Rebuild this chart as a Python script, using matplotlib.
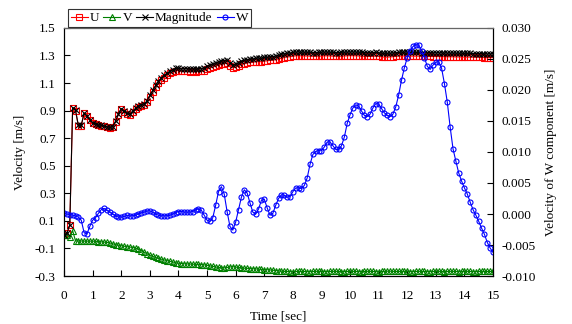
import numpy as np
import matplotlib
matplotlib.use("Agg")
import matplotlib.pyplot as plt

plt.rcParams['font.family'] = ['Liberation Serif', 'DejaVu Serif']

# sample times, 0.1 s step
time_sec = np.linspace(0, 15, 151)

u_vel = [
    0.000, 0.010, 0.070, 0.920, 0.900, 0.790, 0.790, 0.880, 0.860, 0.830,
    0.810, 0.800, 0.795, 0.790, 0.785, 0.780, 0.775, 0.780, 0.820, 0.870,
    0.910, 0.890, 0.875, 0.870, 0.890, 0.910, 0.925, 0.935, 0.940, 0.960,
    1.000, 1.035, 1.070, 1.100, 1.125, 1.140, 1.155, 1.170, 1.180, 1.190,
    1.190, 1.185, 1.185, 1.185, 1.180, 1.185, 1.180, 1.185, 1.185, 1.190,
    1.200, 1.210, 1.215, 1.225, 1.230, 1.235, 1.240, 1.245, 1.225, 1.210,
    1.215, 1.225, 1.235, 1.240, 1.245, 1.250, 1.250, 1.255, 1.255, 1.255,
    1.260, 1.260, 1.265, 1.265, 1.270, 1.275, 1.280, 1.285, 1.290, 1.290,
    1.295, 1.297, 1.298, 1.297, 1.296, 1.296, 1.295, 1.294, 1.294, 1.295,
    1.296, 1.297, 1.297, 1.296, 1.295, 1.294, 1.294, 1.295, 1.296, 1.297,
    1.298, 1.298, 1.297, 1.296, 1.295, 1.294, 1.293, 1.293, 1.294, 1.295,
    1.293, 1.290, 1.288, 1.288, 1.289, 1.291, 1.293, 1.295, 1.296, 1.297,
    1.297, 1.296, 1.295, 1.295, 1.295, 1.294, 1.294, 1.293, 1.293, 1.292,
    1.292, 1.292, 1.291, 1.291, 1.290, 1.290, 1.290, 1.289, 1.289, 1.289,
    1.288, 1.288, 1.288, 1.287, 1.287, 1.287, 1.286, 1.285, 1.284, 1.284,
    1.285,
]

v_vel = [
    0.000, 0.000, -0.020, 0.030, -0.045, -0.045, -0.046, -0.047, -0.047, -0.047,
    -0.047, -0.048, -0.050, -0.052, -0.054, -0.056, -0.060, -0.066, -0.072, -0.076,
    -0.080, -0.084, -0.087, -0.090, -0.093, -0.097, -0.105, -0.115, -0.127, -0.138,
    -0.148, -0.157, -0.165, -0.172, -0.178, -0.183, -0.188, -0.193, -0.198, -0.203,
    -0.207, -0.209, -0.211, -0.212, -0.213, -0.214, -0.215, -0.215, -0.217, -0.219,
    -0.222, -0.226, -0.230, -0.234, -0.238, -0.240, -0.240, -0.238, -0.234, -0.232,
    -0.235, -0.238, -0.241, -0.243, -0.244, -0.246, -0.247, -0.248, -0.250, -0.252,
    -0.253, -0.254, -0.256, -0.258, -0.260, -0.262, -0.264, -0.266, -0.267, -0.268,
    -0.268, -0.267, -0.266, -0.266, -0.267, -0.268, -0.268, -0.267, -0.266, -0.266,
    -0.267, -0.268, -0.268, -0.267, -0.266, -0.266, -0.267, -0.268, -0.268, -0.267,
    -0.266, -0.266, -0.267, -0.268, -0.268, -0.267, -0.266, -0.266, -0.267, -0.268,
    -0.268, -0.267, -0.266, -0.265, -0.265, -0.266, -0.267, -0.267, -0.266, -0.266,
    -0.267, -0.268, -0.268, -0.267, -0.266, -0.266, -0.267, -0.268, -0.268, -0.267,
    -0.266, -0.266, -0.267, -0.268, -0.267, -0.266, -0.266, -0.267, -0.268, -0.267,
    -0.266, -0.266, -0.267, -0.268, -0.268, -0.267, -0.266, -0.266, -0.267, -0.267,
    -0.266,
]

magnitude = [
    0.000, 0.010, 0.072, 0.922, 0.902, 0.792, 0.792, 0.882, 0.862, 0.832,
    0.812, 0.802, 0.797, 0.793, 0.788, 0.783, 0.778, 0.783, 0.824, 0.874,
    0.915, 0.895, 0.880, 0.876, 0.896, 0.917, 0.932, 0.943, 0.949, 0.970,
    1.011, 1.047, 1.083, 1.113, 1.139, 1.155, 1.170, 1.186, 1.197, 1.207,
    1.208, 1.203, 1.204, 1.204, 1.199, 1.204, 1.199, 1.204, 1.205, 1.210,
    1.220, 1.231, 1.237, 1.247, 1.253, 1.258, 1.263, 1.268, 1.248, 1.232,
    1.237, 1.248, 1.258, 1.264, 1.269, 1.274, 1.274, 1.280, 1.280, 1.280,
    1.286, 1.286, 1.291, 1.291, 1.296, 1.302, 1.307, 1.312, 1.317, 1.317,
    1.322, 1.324, 1.325, 1.324, 1.323, 1.323, 1.322, 1.321, 1.321, 1.322,
    1.323, 1.324, 1.324, 1.323, 1.322, 1.321, 1.321, 1.322, 1.323, 1.324,
    1.325, 1.325, 1.324, 1.323, 1.322, 1.321, 1.320, 1.320, 1.321, 1.322,
    1.320, 1.317, 1.315, 1.315, 1.316, 1.318, 1.320, 1.322, 1.323, 1.324,
    1.324, 1.323, 1.322, 1.322, 1.322, 1.321, 1.321, 1.320, 1.320, 1.319,
    1.319, 1.319, 1.318, 1.318, 1.317, 1.317, 1.317, 1.316, 1.316, 1.316,
    1.315, 1.315, 1.315, 1.314, 1.314, 1.314, 1.313, 1.312, 1.311, 1.311,
    1.312,
]

w_vel = [
    0.0001, 0.0000, -0.0001, -0.0002, -0.0003, -0.0005, -0.0010, -0.0030, -0.0032, -0.0020,
    -0.0010, -0.0006, 0.0001, 0.0007, 0.0009, 0.0006, 0.0003, 0.0000, -0.0003, -0.0005,
    -0.0005, -0.0004, -0.0002, -0.0003, -0.0003, -0.0002, 0.0000, 0.0002, 0.0003, 0.0005,
    0.0005, 0.0003, 0.0000, -0.0002, -0.0003, -0.0003, -0.0003, -0.0002, 0.0000, 0.0002,
    0.0004, 0.0004, 0.0003, 0.0003, 0.0003, 0.0004, 0.0007, 0.0008, 0.0006, -0.0002,
    -0.0010, -0.0012, -0.0006, 0.0014, 0.0036, 0.0044, 0.0032, 0.0004, -0.0020, -0.0026,
    -0.0013, 0.0007, 0.0027, 0.0039, 0.0034, 0.0018, 0.0003, 0.0000, 0.0008, 0.0022,
    0.0024, 0.0010, -0.0002, 0.0001, 0.0014, 0.0025, 0.0031, 0.0030, 0.0027, 0.0028,
    0.0036, 0.0042, 0.0042, 0.0041, 0.0046, 0.0058, 0.0080, 0.0096, 0.0101, 0.0102,
    0.0102, 0.0108, 0.0116, 0.0116, 0.0110, 0.0104, 0.0104, 0.0110, 0.0124, 0.0146,
    0.0160, 0.0171, 0.0176, 0.0174, 0.0166, 0.0159, 0.0157, 0.0161, 0.0171, 0.0178,
    0.0177, 0.0170, 0.0163, 0.0159, 0.0157, 0.0161, 0.0173, 0.0192, 0.0216, 0.0236,
    0.0252, 0.0263, 0.0270, 0.0273, 0.0272, 0.0263, 0.0252, 0.0238, 0.0233, 0.0240,
    0.0245, 0.0245, 0.0235, 0.0210, 0.0180, 0.0140, 0.0105, 0.0085, 0.0066, 0.0053,
    0.0042, 0.0032, 0.0019, 0.0007, -0.0002, -0.0012, -0.0023, -0.0033, -0.0046, -0.0055,
    -0.0062,
]

left_ticks = [-0.3, -0.1, 0.1, 0.3, 0.5, 0.7, 0.9, 1.1, 1.3, 1.5]
right_ticks = [-0.010, -0.005, 0.000, 0.005, 0.010, 0.015, 0.020, 0.025, 0.030]

fig = plt.figure(figsize=(5.72, 3.24), dpi=100)
ax = fig.add_axes([0.112, 0.148, 0.750, 0.766])
ax2 = ax.twinx()

lw = 0.8
l_u, = ax.plot(time_sec, u_vel, color='#ff0000', marker='s', ms=3.8, mfc='none',
               mew=0.8, lw=lw, label='U')
l_v, = ax.plot(time_sec, v_vel, color='#008000', marker='^', ms=4.0, mfc='none',
               mew=0.8, lw=lw, label='V')
l_m, = ax.plot(time_sec, magnitude, color='black', marker='x', ms=3.8,
               mew=0.8, lw=lw, label='Magnitude')
l_w, = ax2.plot(time_sec, w_vel, color='#0000ff', marker='o', ms=3.6, mfc='none',
                mew=0.8, lw=lw, label='W')

ax.set_xlim(0, 15)
ax.set_ylim(-0.3, 1.5)
ax2.set_ylim(-0.010, 0.030)
ax.set_xticks(range(0, 16))
ax.set_yticks(left_ticks)
ax.set_yticklabels([f'{v:.1f}' for v in left_ticks])
ax2.set_yticks(right_ticks)
ax2.set_yticklabels([f'{v:.3f}' for v in right_ticks])

ax.tick_params(axis='both', direction='in', length=4, width=0.8, labelsize=9.5)
ax.tick_params(axis='x', pad=10)
ax.tick_params(axis='y', pad=6)
ax2.tick_params(axis='y', direction='in', length=4, width=0.8, labelsize=9.5, pad=6)

for a in (ax, ax2):
    for sp in a.spines.values():
        sp.set_linewidth(0.8)
ax2.spines['top'].set_color('#666666')

ax.set_xlabel('Time [sec]', fontsize=9.5, labelpad=6)
ax.set_ylabel('Velocity [m/s]', fontsize=9.5, labelpad=6)
ax2.set_ylabel('Velocity of W component [m/s]', fontsize=9.5, labelpad=7)

leg = fig.legend(handles=[l_u, l_v, l_m, l_w], loc='lower left',
                 bbox_to_anchor=(68 / 572, 1 - 27 / 324), ncol=4, fontsize=9.5,
                 frameon=True, fancybox=False, edgecolor='black',
                 handlelength=1.3, handletextpad=0.15, columnspacing=0.3,
                 borderpad=0.2, borderaxespad=0)
leg.get_frame().set_linewidth(0.8)

fig.savefig('out.png', dpi=100)
